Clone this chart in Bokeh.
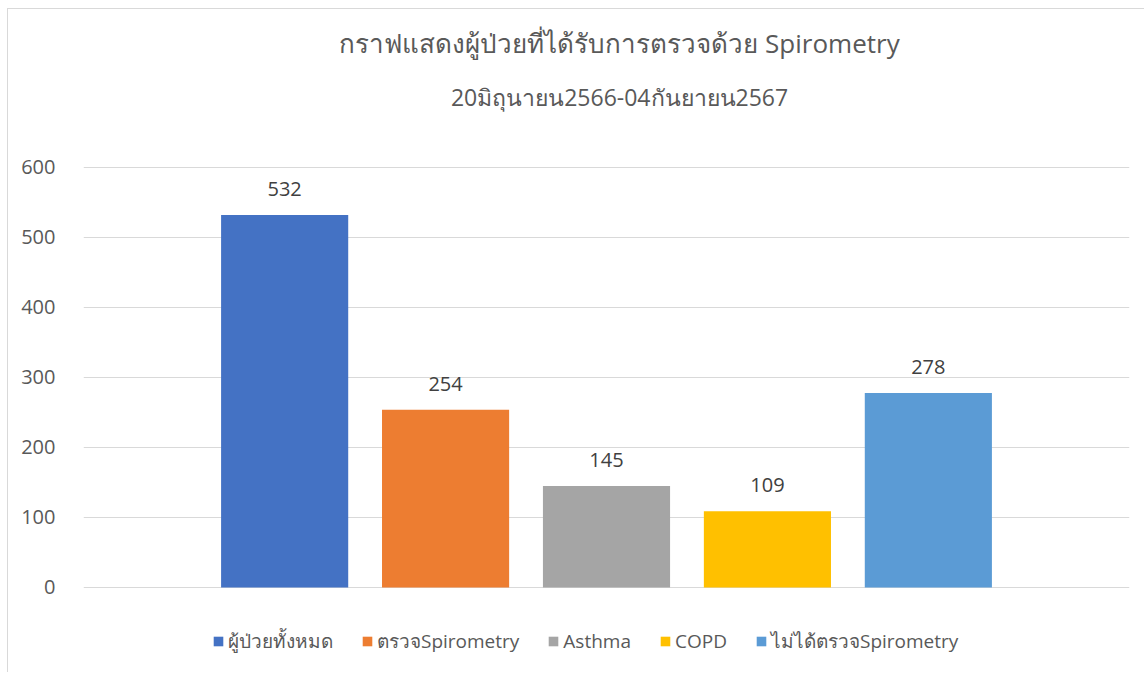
from bokeh.plotting import figure
from bokeh.models import ColumnDataSource, FactorRange, Range1d, FixedTicker, Label, Legend, LegendItem, LabelSet
from bokeh.embed import file_html
from bokeh.resources import INLINE
from bokeh.core.properties import value

categories = ["ผู้ป่วยทั้งหมด", "ตรวจSpirometry", "Asthma", "COPD", "ไม่ได้ตรวจSpirometry"]
counts = [532, 254, 145, 109, 278]
colors = ["#4472C4", "#ED7D31", "#A5A5A5", "#FFC000", "#5B9BD5"]
y_ticks = [0, 100, 200, 300, 400, 500, 600]
title_text = "กราฟแสดงผู้ป่วยที่ได้รับการตรวจด้วย Spirometry"
subtitle_text = "20มิถุนายน2566-04กันยายน2567"

FONT = "Open Sans"

source = ColumnDataSource(dict(cat=categories, val=counts, color=colors,
                               lbl=[str(v) for v in counts]))

# frame spans the full height; value axis keeps 0.7 px per unit
p = figure(width=1137, height=664, output_backend="svg", toolbar_location=None,
           x_range=FactorRange(factors=categories, range_padding=0.75,
                               range_padding_units="absolute"),
           y_range=Range1d(-122.86, 825.71), title=None,
           min_border_left=75, min_border_right=16, min_border_top=0,
           min_border_bottom=0)
p.styles = {"border-left": "1px solid #D9D9D9", "border-top": "1px solid #D9D9D9",
            "margin-left": "7px", "margin-top": "8px"}
p.outline_line_color = None
p.background_fill_color = "white"
p.border_fill_color = "white"

r = p.vbar(x="cat", top="val", width=0.79, color="color", source=source,
           line_color=None)

labels = LabelSet(x="cat", y="val", text="lbl", source=source,
                  text_align="center", text_baseline="bottom", y_offset=19,
                  text_font=value(FONT), text_font_size="20px", text_color="#404040")
p.add_layout(labels)

p.xaxis.visible = False
p.xgrid.visible = False
p.yaxis.ticker = FixedTicker(ticks=y_ticks)
p.yaxis.axis_line_color = None
p.yaxis.major_tick_line_color = None
p.yaxis.minor_tick_line_color = None
p.yaxis.major_label_text_font = FONT
p.yaxis.major_label_text_font_size = "20px"
p.yaxis.major_label_text_color = "#595959"
p.yaxis.major_label_standoff = 22
p.ygrid.ticker = FixedTicker(ticks=y_ticks)
p.ygrid.grid_line_color = "#D9D9D9"
p.ygrid.grid_line_width = 1

main = Label(x=536, y=631, x_units="screen", y_units="screen", text=title_text,
             text_align="center", text_baseline="middle", text_font=FONT,
             text_font_size="26px", text_color="#595959")
sub = Label(x=536, y=577, x_units="screen", y_units="screen", text=subtitle_text,
            text_align="center", text_baseline="middle", text_font=FONT,
            text_font_size="23px", text_color="#595959")
p.add_layout(main)
p.add_layout(sub)

items = [LegendItem(label=c, renderers=[r], index=i) for i, c in enumerate(categories)]
legend = Legend(items=items, orientation="horizontal", location=(129, 17),
                glyph_width=12, glyph_height=12, label_standoff=4, spacing=28,
                padding=0, margin=0, border_line_color=None,
                background_fill_alpha=0,
                label_text_font=FONT, label_text_font_size="19px",
                label_text_color="#595959")
p.add_layout(legend, "center")

open("out.html", "w").write(file_html(p, INLINE))
